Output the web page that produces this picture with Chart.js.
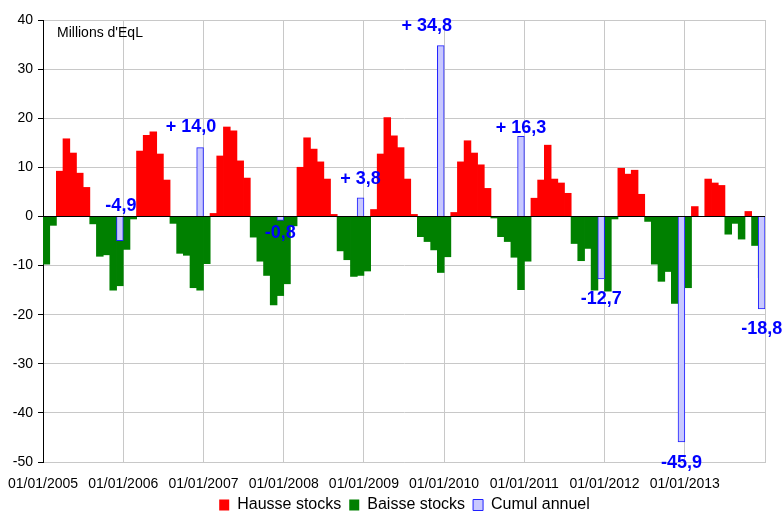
<!DOCTYPE html>
<html>
<head>
<meta charset="utf-8">
<script src="https://cdn.jsdelivr.net/npm/chart.js@4"></script>
<style>
html, body { margin: 0; padding: 0; background: #fff; }
#wrap { width: 784px; height: 512px; }
</style>
</head>
<body>
<div id="wrap"><canvas id="chart"></canvas></div>
<script>
// Variations mensuelles (millions d'EqL), janvier -> décembre
const v2005 = [-9.7, -1.8, 9.2, 15.8, 12.9, 8.8, 5.9, -1.5, -8.1, -7.8, -15.0, -14.1];
const v2006 = [-6.7, -0.5, 13.3, 16.5, 17.2, 12.7, 7.4, -1.4, -7.5, -7.9, -14.5, -15.0];
const v2007 = [-9.6, 0.6, 12.3, 18.2, 17.4, 11.3, 7.8, -4.2, -9.1, -12.0, -18.0, -16.1];
const v2008 = [-13.7, -1.9, 10.0, 16.0, 13.7, 11.1, 7.6, 0.4, -7.0, -8.8, -12.2, -12.0];
const v2009 = [-11.1, 1.4, 12.7, 20.1, 16.4, 14.0, 7.6, 0.4, -4.1, -5.1, -6.8, -11.4];
const v2010 = [-8.2, 0.8, 11.1, 15.4, 12.9, 10.5, 5.7, -0.3, -4.1, -5.1, -8.3, -14.9];
const v2011 = [-9.1, 3.7, 7.4, 14.5, 7.6, 6.8, 4.7, -5.5, -9.0, -6.5, -15.0, -12.3];
const v2012 = [-15.2, -0.5, 9.8, 8.6, 9.4, 4.5, -1.0, -9.7, -13.2, -11.2, -17.7, -9.7];
const v2013 = [-14.5, 2.0, 0, 7.6, 6.8, 6.3, -3.6, -1.4, -4.6, 1.0, -5.9, -12.5];

// Cumul annuel
const cumul = [-4.9, 14.0, -0.8, 3.8, 34.8, 16.3, -12.7, -45.9, -18.8];

const yearLabels = ['01/01/2005', '01/01/2006', '01/01/2007', '01/01/2008', '01/01/2009',
                    '01/01/2010', '01/01/2011', '01/01/2012', '01/01/2013'];

const months = [].concat(v2005, v2006, v2007, v2008, v2009, v2010, v2011, v2012, v2013);

const hausse = [];
const baisse = [];
months.forEach(function (v, i) {
    const pt = { x: i + 0.5, y: v };
    if (v >= 0) hausse.push(pt); else baisse.push(pt);
});
const annuel = cumul.map(function (v, k) { return { x: k * 12 + 11.5, y: v }; });

const FONT = '"Liberation Sans", Arial, sans-serif';

// décalage des étiquettes bleues par rapport au bout de la barre
const labelShift = [[1, -34], [-9, -21], [0, 13], [0, -19], [-14, -20], [0, -8], [0, 20], [0, 21], [0, 20]];

const annotPlugin = {
    id: 'annot',
    afterLayout(chart) {
        // légende centrée sous la zone de tracé
        chart.legend.left += 22;
        chart.legend.right += 22;
        chart.legend.top -= 4;
        chart.legend.bottom -= 4;
    },
    afterDatasetsDraw(chart) {
        const { ctx, chartArea, scales } = chart;
        const y0 = Math.round(scales.y.getPixelForValue(0)) + 0.5;
        ctx.save();
        ctx.strokeStyle = '#000';
        ctx.lineWidth = 1;
        ctx.beginPath();
        ctx.moveTo(chartArea.left, y0);
        ctx.lineTo(chartArea.right, y0);
        ctx.stroke();

        ctx.font = 'bold 18px ' + FONT;
        ctx.fillStyle = '#0000ff';
        ctx.textAlign = 'center';
        ctx.textBaseline = 'middle';
        chart.getDatasetMeta(2).data.forEach(function (bar, k) {
            const v = cumul[k];
            const txt = (v > 0 ? '+ ' : '') + v.toFixed(1).replace('.', ',');
            ctx.fillText(txt, bar.x + labelShift[k][0], bar.y + labelShift[k][1]);
        });

        ctx.font = '14px ' + FONT;
        ctx.fillStyle = '#000';
        ctx.textAlign = 'left';
        ctx.fillText("Millions d'EqL", chartArea.left + 14, chartArea.top + 13);
        ctx.restore();
    }
};

new Chart(document.getElementById('chart'), {
    type: 'bar',
    data: {
        datasets: [{
            label: 'Hausse stocks',
            data: hausse,
            backgroundColor: '#ff0000',
            borderWidth: 0,
            order: 1
        }, {
            label: 'Baisse stocks',
            data: baisse,
            backgroundColor: '#008000',
            borderWidth: 0,
            order: 1
        }, {
            label: 'Cumul annuel',
            data: annuel,
            backgroundColor: '#c8c8ff',
            borderColor: '#2020ff',
            borderWidth: 1,
            order: 0
        }]
    },
    options: {
        responsive: true,
        maintainAspectRatio: false,
        animation: false,
        grouped: false,
        barPercentage: 1,
        categoryPercentage: 1,
        inflateAmount: 0.4,
        layout: { padding: { left: 0, right: 19, top: 20, bottom: -15 } },
        plugins: {
            tooltip: { enabled: false },
            legend: {
                position: 'bottom',
                labels: {
                    boxWidth: 10,
                    boxHeight: 11,
                    padding: 8,
                    color: '#000',
                    font: { family: FONT, size: 16 },
                    sort: function (a, b) { return a.datasetIndex - b.datasetIndex; }
                }
            }
        },
        scales: {
            x: {
                type: 'linear',
                min: 0,
                max: 108,
                offset: false,
                afterFit: function (s) {
                    s.height = 31;
                    s.paddingLeft = 0;
                    s.paddingRight = 0;
                },
                grid: { color: '#c8c8c8', drawTicks: false, offset: false },
                border: { color: '#c8c8c8' },
                ticks: {
                    stepSize: 12,
                    autoSkip: false,
                    maxRotation: 0,
                    padding: 14,
                    color: '#000',
                    font: { family: FONT, size: 14 },
                    callback: function (v) { return yearLabels[v / 12] || ''; }
                }
            },
            y: {
                min: -50,
                max: 40,
                afterFit: function (s) { s.width = 43; },
                grid: { color: '#c8c8c8', tickColor: '#000', tickLength: 5 },
                border: { color: '#000' },
                ticks: {
                    stepSize: 10,
                    padding: 5,
                    color: '#000',
                    font: { family: FONT, size: 14 }
                }
            }
        }
    },
    plugins: [annotPlugin]
});
</script>
</body>
</html>
